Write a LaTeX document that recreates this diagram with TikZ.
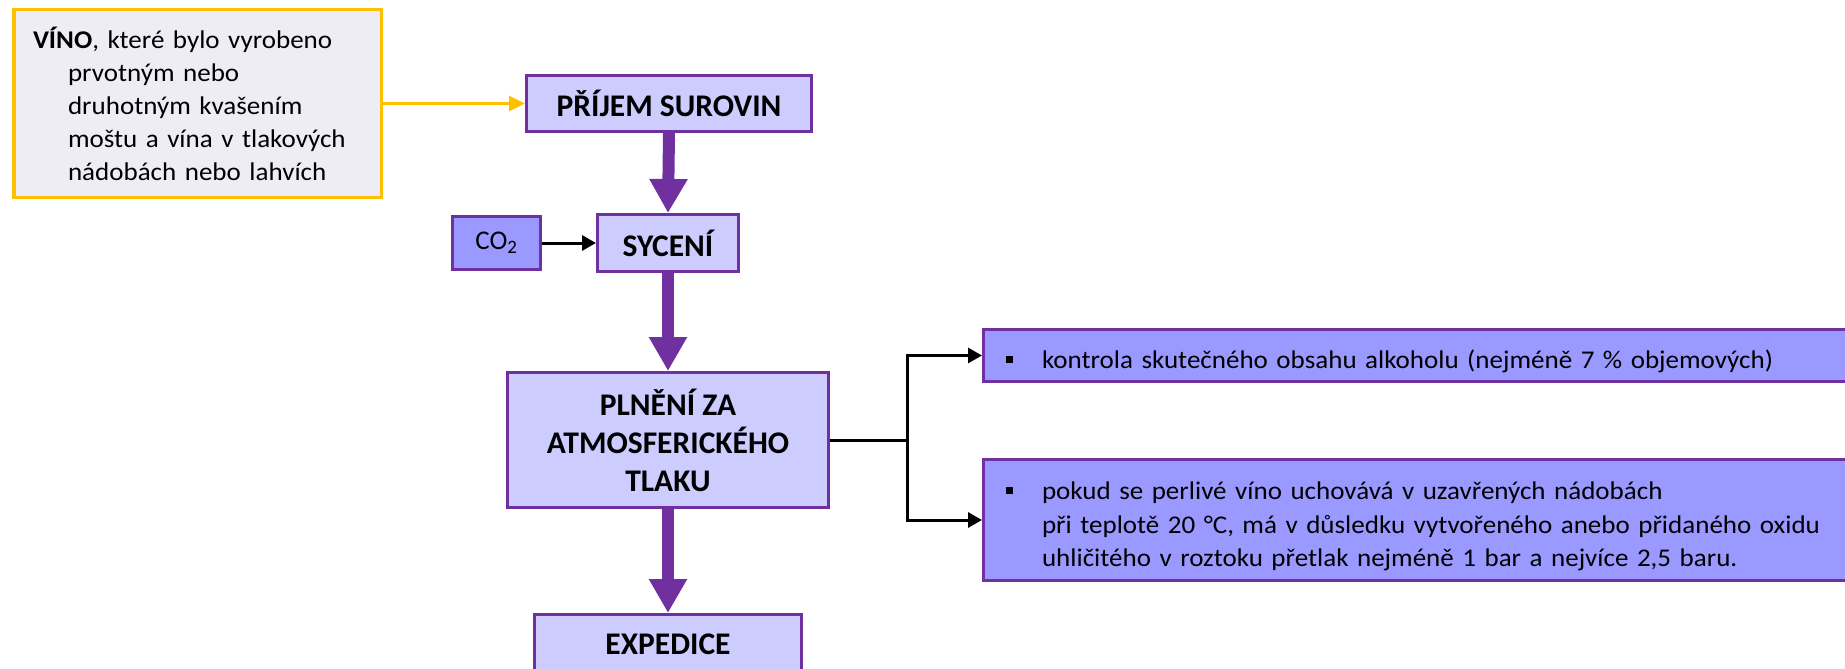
\documentclass[tikz,border=0pt]{standalone}
\usepackage{fontspec}
\setmainfont{Carlito}
\newfontfamily\notefont{Carlito}[FakeStretch=1.06]
\usetikzlibrary{arrows.meta}

\definecolor{flowpurple}{HTML}{7030A0}
\definecolor{boxlight}{HTML}{CCCCFF}
\definecolor{boxmid}{HTML}{9999FF}
\definecolor{noteyellow}{HTML}{FFC000}
\definecolor{notefill}{HTML}{EEEDF6}

% square bullet followed by the indent of the note text
\newcommand\sqbullet{\makebox[36pt][l]{\rule[6pt]{7pt}{7pt}}}
% tall invisible strut that lowers the text block inside a note box
\newcommand\topstrut{\rule{0pt}{31pt}}

\begin{document}
\begin{tikzpicture}[x=1pt,y=-1pt,
  stepbox/.style={draw=flowpurple, fill=boxlight, line width=3pt, inner sep=0pt,
    align=center, font=\bfseries\fontsize{31.5}{38}\selectfont},
  notebox/.style={draw=flowpurple, fill=boxmid, line width=3pt,
    inner xsep=22.5pt, inner ysep=0pt, text width=830pt, align=left,
    font=\notefont\fontsize{25.5}{33.5}\selectfont},
  fatarrow/.style={draw=flowpurple, line width=12pt,
    -{Triangle[length=34pt,width=36pt]}},
  thinarrow/.style={draw=black, line width=3pt,
    -{Triangle[length=14pt,width=15pt]}},
  yellowarrow/.style={draw=noteyellow, line width=3pt,
    -{Triangle[length=16pt,width=15pt]}}
]
\useasboundingbox (0,0) rectangle (1845,669);
\clip (0,0) rectangle (1845,669);

% input description
\node[draw=noteyellow, fill=notefill, line width=3.5pt, inner xsep=19.25pt,
      inner ysep=0pt, text width=329pt, minimum height=187.5pt, align=left,
      font=\notefont\fontsize{25.5}{33}\selectfont] (vino) at (197.5,103.5)
  {\textbf{VÍNO}, které bylo vyrobeno\\
   \hspace*{35pt}prvotným nebo\\
   \hspace*{35pt}druhotným kvašením\\
   \hspace*{35pt}moštu a vína v tlakových\\
   \hspace*{35pt}nádobách nebo lahvích};

% process steps
\node[stepbox, minimum width=285pt, minimum height=56pt] (prijem) at (669,103.5) {PŘÍJEM SUROVIN};
\node[stepbox, minimum width=141pt, minimum height=57pt] (syceni) at (668,243) {SYCENÍ};
\node[stepbox, minimum width=321pt, minimum height=135pt] (plneni) at (668,440) {PLNĚNÍ ZA\\ATMOSFERICKÉHO\\TLAKU};
\node[stepbox, minimum width=267pt, minimum height=59pt] (expedice) at (668,644) {EXPEDICE};

% gas input
\node[draw=flowpurple, fill=boxmid, line width=3pt, minimum width=88pt,
      minimum height=53pt, inner sep=0pt, font=\fontsize{27}{30}\selectfont]
  (co2) at (496.5,243) {CO\textsubscript{2}};

% notes on filling
\node[notebox, minimum height=52pt] (kontrola) at (1421,355.5)
  {\topstrut\sqbullet kontrola skutečného obsahu alkoholu (nejméně 7 \% objemových)};
\node[notebox, minimum height=121pt] (tlak) at (1421,520)
  {\topstrut\sqbullet pokud se perlivé víno uchovává v uzavřených nádobách\\
   \hspace*{36pt}při teplotě 20 °C, má v důsledku vytvořeného anebo přidaného oxidu\\
   \hspace*{36pt}uhličitého v roztoku přetlak nejméně 1 bar a nejvíce 2,5 baru.};

% connectors
\draw[yellowarrow] (vino.east) -- (prijem.west);
\draw[fatarrow] (prijem.south) -- (syceni.north);
\draw[fatarrow] (syceni.south) -- (plneni.north);
\draw[fatarrow] (plneni.south) -- (expedice.north);
\draw[thinarrow] (co2.east) -- (syceni.west);
\draw[black, line width=3pt] (plneni.east) -- ++(77,0) coordinate (fork);
\draw[thinarrow] (fork) |- (kontrola.west);
\draw[thinarrow] (fork) |- (tlak.west);
\end{tikzpicture}
\end{document}
